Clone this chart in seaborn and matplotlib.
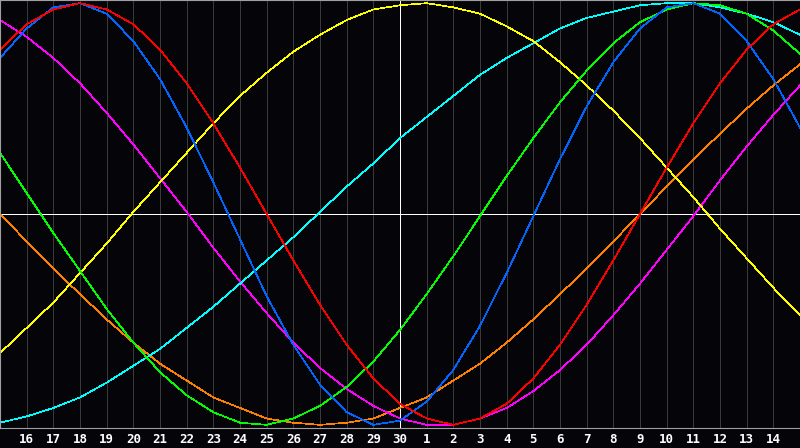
import numpy as np
import pandas as pd
import matplotlib
matplotlib.use("Agg")
import matplotlib.pyplot as plt
import seaborn as sns

# day labels along the bottom (index 0 = left edge, 30 = right edge)
day_labels = [str(d) for d in range(16, 31)] + [str(d) for d in range(1, 15)]
days = list(range(31))

# cycle values, one per day
physical = [0.74, 0.88, 0.98, 1.00, 0.95, 0.82, 0.64, 0.41, 0.15, -0.12,
            -0.39, -0.62, -0.81, -0.94, -1.00, -0.98, -0.89, -0.74, -0.53, -0.28,
            -0.01, 0.26, 0.51, 0.72, 0.88, 0.98, 1.00, 0.95, 0.82, 0.64, 0.41]
emotional = [0.78, 0.90, 0.97, 1.00, 0.97, 0.90, 0.78, 0.62, 0.43, 0.22,
             0.00, -0.22, -0.43, -0.62, -0.78, -0.90, -0.97, -1.00, -0.97, -0.90,
             -0.78, -0.62, -0.43, -0.22, 0.00, 0.22, 0.43, 0.62, 0.78, 0.90, 0.97]
intellectual = [0.29, 0.10, -0.09, -0.27, -0.45, -0.61, -0.75, -0.86, -0.94, -0.99,
                -1.00, -0.97, -0.91, -0.82, -0.70, -0.55, -0.38, -0.20, -0.01, 0.18,
                0.36, 0.53, 0.68, 0.81, 0.91, 0.97, 1.00, 0.99, 0.95, 0.87, 0.76]
intuitive = [0.92, 0.84, 0.74, 0.62, 0.48, 0.33, 0.17, 0.01, -0.16, -0.32,
             -0.47, -0.61, -0.73, -0.83, -0.91, -0.97, -1.00, -1.00, -0.97, -0.92,
             -0.84, -0.74, -0.62, -0.48, -0.33, -0.17, -0.01, 0.16, 0.32, 0.47, 0.61]
aesthetic = [-0.66, -0.54, -0.42, -0.28, -0.14, 0.01, 0.15, 0.29, 0.43, 0.56,
             0.67, 0.77, 0.85, 0.92, 0.97, 0.99, 1.00, 0.98, 0.95, 0.89,
             0.82, 0.72, 0.61, 0.49, 0.36, 0.22, 0.08, -0.07, -0.21, -0.35, -0.48]
awareness = [0.00, -0.13, -0.26, -0.38, -0.50, -0.61, -0.71, -0.79, -0.87, -0.92,
             -0.97, -0.99, -1.00, -0.99, -0.97, -0.92, -0.87, -0.79, -0.71, -0.61,
             -0.50, -0.38, -0.26, -0.13, 0.00, 0.13, 0.26, 0.38, 0.50, 0.61, 0.71]
spiritual = [-0.99, -0.96, -0.92, -0.87, -0.80, -0.72, -0.64, -0.54, -0.44, -0.33,
             -0.22, -0.11, 0.01, 0.13, 0.24, 0.36, 0.46, 0.56, 0.66, 0.74,
             0.81, 0.88, 0.93, 0.96, 0.99, 1.00, 1.00, 0.98, 0.95, 0.91, 0.85]

series = {
    "awareness": awareness,
    "intuitive": intuitive,
    "spiritual": spiritual,
    "aesthetic": aesthetic,
    "intellectual": intellectual,
    "physical": physical,
    "emotional": emotional,
}
colors = {
    "awareness": "#ff8000",
    "intuitive": "#ff00ff",
    "spiritual": "#00ffff",
    "aesthetic": "#ffff00",
    "intellectual": "#00ff00",
    "physical": "#0066ff",
    "emotional": "#ff0000",
}

df = pd.DataFrame(
    [(d, v, name) for name, vals in series.items() for d, v in zip(days, vals)],
    columns=["day", "value", "cycle"],
)

bg = "#050408"
fig = plt.figure(figsize=(8, 4.48), dpi=100, facecolor=bg)
ax = fig.add_axes([0, 20 / 448, 1, 428 / 448])
ax.set_facecolor(bg)

# daily grid
for d in range(1, 30):
    ax.axvline(d, color="#3a3a3a", linewidth=0.5, zorder=0, antialiased=False)
ax.axvline(15, color="white", linewidth=0.5, zorder=1, antialiased=False)
ax.axhline(0, color="white", linewidth=0.5, zorder=1, antialiased=False)

sns.lineplot(data=df, x="day", y="value", hue="cycle", palette=colors,
             hue_order=list(series.keys()), linewidth=0.5, legend=False, ax=ax,
             antialiased=False, zorder=2)

ax.set_xlim(0, 30)
ax.set_ylim(-1.015, 1.015)
ax.set_xticks(range(1, 30))
ax.set_xticklabels(day_labels, family="DejaVu Sans Mono", fontweight="bold",
                   fontsize=9, color="white")
ax.set_yticks([])
ax.tick_params(axis="x", length=0, pad=3.5)
ax.set_xlabel("")
ax.set_ylabel("")
for side in ["left", "top", "bottom"]:
    ax.spines[side].set_color("#a0a0a0")
    ax.spines[side].set_linewidth(0.8)
ax.spines["right"].set_visible(False)

fig.savefig("out.png", dpi=100, facecolor=bg)
